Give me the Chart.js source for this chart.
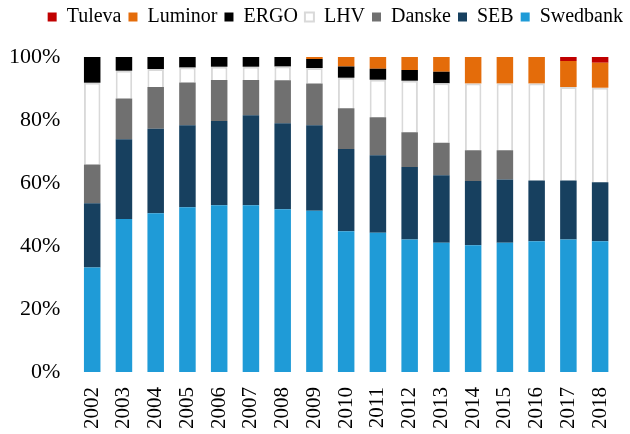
<!DOCTYPE html>
<html>
<head>
<meta charset="utf-8">
<script src="https://cdn.jsdelivr.net/npm/chart.js"></script>
<style>
  body { margin: 0; background: #fff; }
  #wrap { width: 630px; height: 434px; overflow: hidden; }
</style>
</head>
<body>
<div id="wrap"><canvas id="bar-chart" width="630" height="449"></canvas></div>
<script>
// market shares, %
var years = ["2002","2003","2004","2005","2006","2007","2008","2009","2010","2011","2012","2013","2014","2015","2016","2017","2018"];
var swedbank = [33.2, 48.6, 50.4, 52.3, 52.9, 52.9, 51.7, 51.2, 44.7, 44.2, 42.1, 41.0, 40.2, 41.0, 41.5, 42.1, 41.5];
var seb      = [20.4, 25.3, 26.8, 26.0, 26.8, 28.6, 27.3, 27.1, 26.1, 24.6, 23.0, 21.5, 20.4, 20.1, 19.3, 18.7, 18.7];
var danske   = [12.3, 12.9, 13.3, 13.6, 13.0, 11.2, 13.6, 13.3, 12.9, 12.1, 11.0, 10.3,  9.8,  9.3,  0,    0,    0];
var lhv      = [25.9,  8.8,  5.7,  4.8,  4.2,  4.2,  4.4,  4.9,  9.7, 11.9, 16.4, 18.9, 21.2, 21.2, 30.8, 29.7, 30.0];
var ergo     = [ 8.2,  4.4,  3.8,  3.3,  3.1,  3.1,  3.0,  2.9,  3.6,  3.5,  3.4,  3.6,  0,    0,    0,    0,    0];
var luminor  = [ 0,    0,    0,    0,    0,    0,    0,    0.6,  3.0,  3.7,  4.1,  4.7,  8.4,  8.4,  8.4,  8.2,  8.0];
var tuleva   = [ 0,    0,    0,    0,    0,    0,    0,    0,    0,    0,    0,    0,    0,    0,    0,    1.3,  1.8];
var yTicks = [0, 20, 40, 60, 80, 100];

// extra room under the legend
var legendGap = {
  id: 'legendGap',
  beforeInit: function(chart) {
    var fit = chart.legend.fit;
    chart.legend.fit = function() {
      fit.bind(chart.legend)();
      this.height += 20;
    };
  }
};

new Chart(document.getElementById("bar-chart"), {
    type: 'bar',
    data: {
      labels: years,
      datasets: [
        { label: "Swedbank", backgroundColor: "#1f9bd7", borderWidth: 0, data: swedbank },
        { label: "SEB", backgroundColor: "#17405f", borderWidth: 0, data: seb },
        { label: "Danske", backgroundColor: "#707070", borderWidth: 0, data: danske },
        { label: "LHV", backgroundColor: "#ffffff", borderColor: "#d9d9d9", borderWidth: 2, data: lhv },
        { label: "ERGO", backgroundColor: "#000000", borderWidth: 0, data: ergo },
        { label: "Luminor", backgroundColor: "#e46c0a", borderWidth: 0, data: luminor },
        { label: "Tuleva", backgroundColor: "#c00000", borderWidth: 0, data: tuleva }
      ]
    },
    plugins: [legendGap],
    options: {
      responsive: false,
      animation: false,
      layout: { padding: { left: -7, right: 0, top: 0, bottom: 5 } },
      datasets: { bar: { barPercentage: 0.52, categoryPercentage: 1 } },
      plugins: {
        legend: {
          position: 'top',
          align: 'end',
          reverse: true,
          labels: {
            boxWidth: 9,
            boxHeight: 9,
            padding: 7,
            color: '#000',
            font: { family: "'Liberation Serif'", size: 20 }
          }
        },
        tooltip: { enabled: false }
      },
      scales: {
        x: {
          stacked: true,
          grid: { display: false, drawTicks: false },
          border: { display: false },
          afterFit: function(axis) {
            axis.paddingLeft = 0;
            axis.paddingRight = 0;
          },
          ticks: {
            color: '#000',
            minRotation: 90,
            maxRotation: 90,
            padding: 15,
            font: { family: "'Liberation Serif'", size: 21 }
          }
        },
        y: {
          stacked: true,
          min: 0,
          max: 100,
          grid: { display: false, drawTicks: false },
          border: { display: false },
          afterBuildTicks: function(axis) {
            axis.ticks = yTicks.map(function(v) { return { value: v }; });
          },
          ticks: {
            color: '#000',
            padding: 16,
            font: { family: "'Liberation Serif'", size: 22 },
            callback: function(v) { return v + '%'; }
          }
        },
        // empty axis that keeps the plot off the right edge
        yRight: {
          position: 'right',
          grid: { display: false, drawTicks: false },
          border: { display: false },
          ticks: { display: false },
          afterFit: function(axis) { axis.width = 14; }
        }
      }
    }
});
</script>
</body>
</html>
